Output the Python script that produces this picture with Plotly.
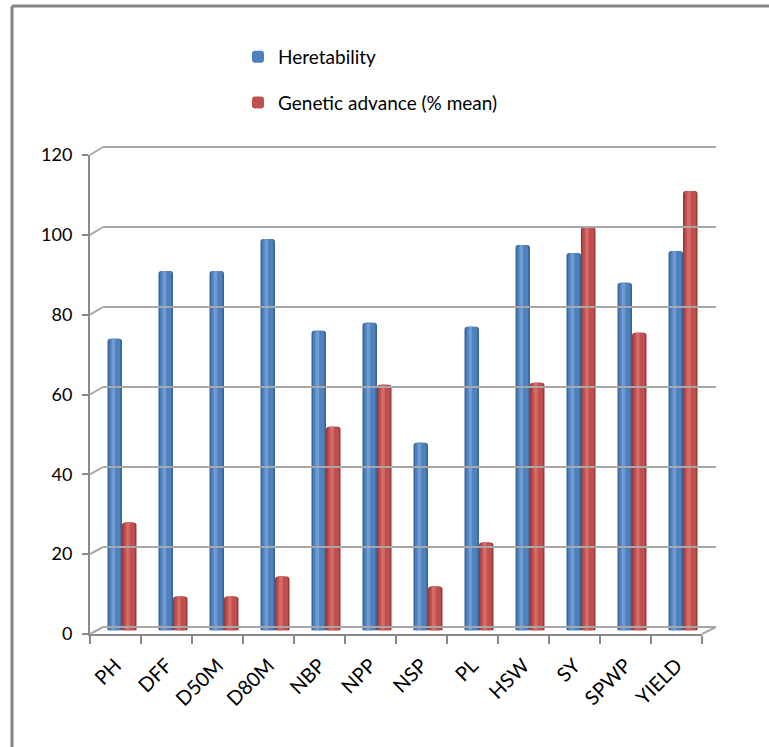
import plotly.graph_objects as go

# Traits and the two measured series
traits = ["PH", "DFF", "D50M", "D80M", "NBP", "NPP", "NSP", "PL", "HSW", "SY", "SPWP", "YIELD"]
heritability = [73, 90, 90, 98, 75, 77, 47, 76, 96.5, 94.5, 87, 95]
genetic_advance = [27, 8.5, 8.5, 13.5, 51, 61.5, 11, 22, 62, 101, 74.5, 110]
y_ticks = [0, 20, 40, 60, 80, 100, 120]

W, H = 769, 747
FONT = "Lato"
AXIS_GREY = "#8a8a8a"
GRID_GREY = "#a8a8a8"


def fx(px):
    return px / W


def fy(py):
    return 1 - py / H


# pixel geometry of the three planes of the pseudo-3D box
FRONT = dict(x0=90, x1=702, y0=634, y1=155)    # y0: value 0, y1: value 120
MID = dict(x0=96.5, x1=708.5, y0=630.5, y1=151)
BACK = dict(x0=103, x1=716, y0=627, y1=147)

fig = go.Figure()

# cylinder-like columns: dark rim, main body, light highlight stripe
bar_w = 14.5 / 51
rim = 1.6 / 51
series = [
    ("Heretability", heritability, -bar_w, "#3a6598", "#4f81bd", "#6e9bd4", "h"),
    ("Genetic advance (% mean)", genetic_advance, 0.0, "#9a3a38", "#c0504d", "#d46b68", "g"),
]
for name, vals, off, edge, main, light, grp in series:
    fig.add_trace(go.Bar(
        x=traits, y=vals, width=bar_w, offset=off,
        marker=dict(color=edge, line=dict(width=0), cornerradius=3),
        showlegend=False, legendgroup=grp, hoverinfo="skip",
    ))
    fig.add_trace(go.Bar(
        x=traits, y=vals, width=bar_w - 2 * rim, offset=off + rim, name=name,
        marker=dict(color=main, line=dict(width=0), cornerradius=3),
        legendgroup=grp, showlegend=True,
    ))
    fig.add_trace(go.Bar(
        x=traits, y=vals, width=bar_w * 0.25, offset=off + bar_w * 0.28,
        marker=dict(color=light, line=dict(width=0), cornerradius=2),
        showlegend=False, legendgroup=grp, hoverinfo="skip",
    ))

# front plane carries the category and value labels
fig.add_trace(go.Scatter(
    x=traits, y=heritability, xaxis="x2", yaxis="y2", mode="markers",
    marker=dict(size=1, opacity=0), showlegend=False, hoverinfo="skip",
))
# back wall carries the gridlines
fig.add_trace(go.Scatter(
    x=[], y=[], xaxis="x3", yaxis="y3", mode="markers",
    showlegend=False, hoverinfo="skip",
))

ytick_font = dict(family=FONT, size=18, color="#000000")
xtick_font = dict(family=FONT, size=20, color="#000000")

fig.update_layout(
    width=W, height=H, autosize=False,
    margin=dict(l=0, r=0, t=0, b=0, autoexpand=False),
    paper_bgcolor="white", plot_bgcolor="rgba(0,0,0,0)",
    barmode="overlay",
    font=dict(family=FONT, size=18, color="#000000"),
    xaxis=dict(
        type="category", categoryorder="array", categoryarray=traits,
        range=[-0.5, len(traits) - 0.5],
        domain=[fx(MID["x0"]), fx(MID["x1"])], anchor="y",
        visible=False, automargin=False,
    ),
    yaxis=dict(
        range=[0, 120], domain=[fy(MID["y0"]), fy(MID["y1"])], anchor="x",
        visible=False, automargin=False,
    ),
    xaxis2=dict(
        type="category", categoryorder="array", categoryarray=traits,
        range=[-0.5, len(traits) - 0.5],
        domain=[fx(FRONT["x0"]), fx(FRONT["x1"])], anchor="y2",
        showline=True, linecolor=AXIS_GREY, linewidth=2,
        ticks="outside", ticklen=8, tickwidth=2, tickcolor=AXIS_GREY,
        tickson="boundaries", tickangle=-45, tickfont=xtick_font,
        ticklabelstandoff=10,
        showgrid=False, zeroline=False, automargin=False,
    ),
    yaxis2=dict(
        range=[0, 120], domain=[fy(FRONT["y0"]), fy(FRONT["y1"])], anchor="x2",
        tickvals=y_ticks, showline=True, linecolor=AXIS_GREY, linewidth=2,
        ticks="outside", ticklen=6, tickwidth=2, tickcolor=AXIS_GREY,
        tickfont=ytick_font, ticklabelstandoff=6,
        showgrid=False, zeroline=False, automargin=False,
    ),
    xaxis3=dict(
        range=[0, 1], domain=[fx(BACK["x0"]), fx(BACK["x1"])], anchor="y3",
        visible=False, automargin=False,
    ),
    yaxis3=dict(
        range=[-1, 121],
        domain=[fy(BACK["y0"] + 4), fy(BACK["y1"] - 4)], anchor="x3",
        tickvals=y_ticks, showticklabels=False, ticks="",
        showgrid=True, gridcolor=GRID_GREY, gridwidth=2,
        zeroline=False, showline=False, automargin=False,
    ),
    legend=dict(
        x=fx(238), y=fy(38), xanchor="left", yanchor="top",
        font=dict(family=FONT, size=19, color="#000000"),
        tracegroupgap=18, bgcolor="rgba(0,0,0,0)",
    ),
)


def front_y(v):
    return FRONT["y0"] + (FRONT["y1"] - FRONT["y0"]) * v / 120


def back_y(v):
    return BACK["y0"] + (BACK["y1"] - BACK["y0"]) * v / 120


shapes = []
# slanted connectors from the value axis to the back wall
for v in y_ticks:
    shapes.append(dict(
        type="line", xref="paper", yref="paper",
        x0=fx(FRONT["x0"]), y0=fy(front_y(v)), x1=fx(BACK["x0"]), y1=fy(back_y(v)),
        line=dict(color=GRID_GREY, width=2),
    ))
# right edge of the floor
shapes.append(dict(
    type="line", xref="paper", yref="paper",
    x0=fx(FRONT["x1"]), y0=fy(front_y(0)), x1=fx(BACK["x1"]), y1=fy(back_y(0)),
    line=dict(color=GRID_GREY, width=2),
))
# chart frame (left and top edges)
shapes.append(dict(
    type="line", xref="paper", yref="paper",
    x0=fx(12), y0=fy(6), x1=fx(12), y1=0,
    line=dict(color="#868686", width=3),
))
shapes.append(dict(
    type="line", xref="paper", yref="paper",
    x0=fx(12), y0=fy(6), x1=1, y1=fy(6),
    line=dict(color="#868686", width=3),
))
fig.update_layout(shapes=shapes)

fig.write_html("out.html")
